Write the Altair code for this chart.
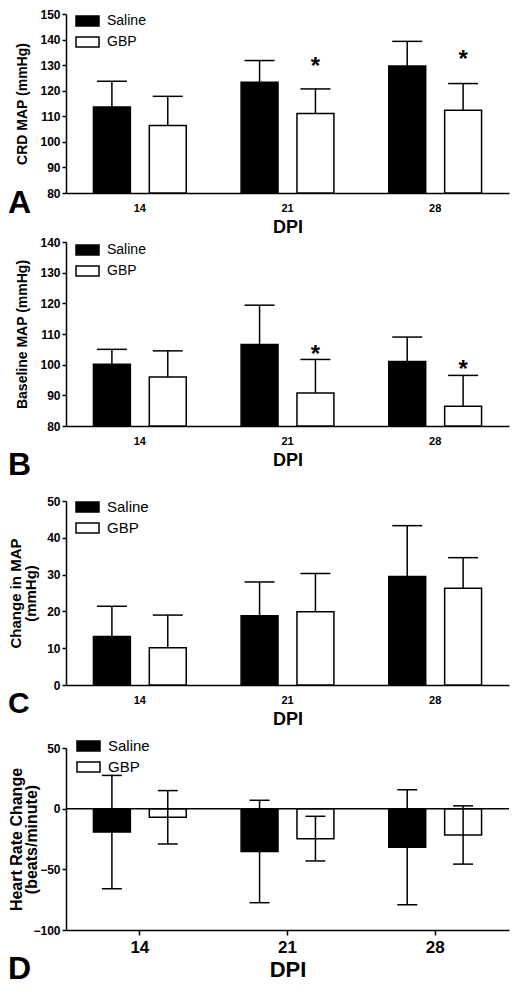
import altair as alt
import pandas as pd

# ---------------- data ----------------
dpi = ["14", "21", "28"]
groups = ["Saline", "GBP"]

# A: CRD MAP (mmHg)
crd_saline = [113.6, 123.3, 129.7]
crd_saline_sd = [10.1, 8.5, 9.6]
crd_gbp = [106.4, 111.1, 112.4]
crd_gbp_sd = [11.4, 9.6, 10.4]
crd_star = [None, 131.6, 134.2]

# B: Baseline MAP (mmHg)
base_saline = [100.1, 106.6, 101.0]
base_saline_sd = [4.9, 12.8, 8.0]
base_gbp = [96.0, 90.8, 86.4]
base_gbp_sd = [8.5, 10.9, 10.1]
base_star = [None, 105.1, 100.3]

# C: Change in MAP (mmHg)
chg_saline = [13.2, 18.8, 29.5]
chg_saline_sd = [8.2, 9.2, 13.8]
chg_gbp = [10.1, 19.9, 26.3]
chg_gbp_sd = [8.9, 10.4, 8.3]

# D: Heart rate change (beats/minute)
hr_saline = [-19.3, -35.3, -31.8]
hr_saline_sd = [46.7, 42.2, 47.4]
hr_gbp = [-7.1, -24.7, -21.7]
hr_gbp_sd = [22.0, 18.4, 24.0]

FONT = "Liberation Sans"
W = 443
RECT = "M-1,-0.43H1V0.43H-1Z"


def frame(sal, sal_sd, gbp, gbp_sd, star=None):
    rows = []
    for i, d in enumerate(dpi):
        rows.append(dict(DPI=d, group="Saline", mean=sal[i], sd=sal_sd[i], star=None))
        rows.append(dict(DPI=d, group="GBP", mean=gbp[i], sd=gbp_sd[i],
                         star=(star[i] if star else None)))
    df = pd.DataFrame(rows)
    df["hi"] = df["mean"] + df["sd"]
    df["lo"] = df["mean"] - df["sd"]
    return df


def panel(df, ytitle, domain, yticks, height, top, base, letter, letter_y,
          legend_x, legend_y, legend_font, row_pad, title_x, two_sided=False, cap=30,
          xlabel_size=11, xtitle_size=18, xticks=False, xlabel_pad=9, xtitle_pad=5,
          ytitle_size=14, ytitle_lh=16, letter_size=32, zero_rule=False):
    xaxis = alt.Axis(title="DPI", labelAngle=0, ticks=xticks, tickSize=5,
                     labelFontSize=xlabel_size, titleFontSize=xtitle_size,
                     labelPadding=xlabel_pad, titlePadding=xtitle_pad)
    x = alt.X("DPI:N", sort=dpi, scale=alt.Scale(paddingInner=0, paddingOuter=0), axis=xaxis)
    xo = alt.XOffset("group:N", sort=groups,
                     scale=alt.Scale(domain=groups, paddingInner=0.339, paddingOuter=0.491))
    yscale = alt.Scale(domain=domain, range=[height, top], nice=False, zero=False)
    yaxis = alt.Axis(title=ytitle, values=yticks, tickSize=4, labelFontSize=12,
                     labelPadding=2, titleFontSize=ytitle_size,
                     titleLineHeight=ytitle_lh, titleX=title_x,
                     titleY=(height + top) / 2, titleBaseline="bottom", titleAngle=270,
                     titleAlign="center")

    def Y(field):
        return alt.Y(field, type="quantitative", scale=yscale, axis=yaxis)

    base_chart = alt.Chart(df)
    bars = base_chart.mark_bar(stroke="black", strokeWidth=1.5).encode(
        x=x, xOffset=xo, y=Y("mean"), y2=alt.Y2(datum=base),
        fill=alt.Fill("group:N", sort=groups,
                      scale=alt.Scale(domain=groups, range=["black", "white"]),
                      legend=alt.Legend(title=None, orient="none", legendX=legend_x,
                                        legendY=legend_y, direction="vertical",
                                        symbolType=RECT, symbolSize=529,
                                        symbolStrokeColor="black", symbolStrokeWidth=1.5,
                                        labelFontSize=legend_font, labelOffset=7,
                                        rowPadding=row_pad, padding=0)),
    )
    layers = [bars]
    if zero_rule:
        layers.append(alt.Chart(pd.DataFrame({"z": [0]})).mark_rule(
            color="black", strokeWidth=1.5).encode(y=Y("z")))
    err = base_chart.mark_rule(color="black", strokeWidth=1.5).encode(
        x=x, xOffset=xo, y=Y("lo" if two_sided else "mean"), y2="hi")
    layers.append(err)
    capmark = dict(shape="M-1,0H1", size=cap * cap, stroke="black", strokeWidth=1.5,
                   filled=False, opacity=1)
    layers.append(base_chart.mark_point(**capmark).encode(x=x, xOffset=xo, y=Y("hi")))
    if two_sided:
        layers.append(base_chart.mark_point(**capmark).encode(x=x, xOffset=xo, y=Y("lo")))
    if df["star"].notna().any():
        layers.append(base_chart.transform_filter("isValid(datum.star)").mark_text(
            text="*", fontSize=24, fontWeight="bold", font=FONT, baseline="alphabetic",
            dy=13, color="black").encode(x=x, xOffset=xo, y=Y("star")))
    layers.append(alt.Chart(pd.DataFrame({"l": [letter]})).mark_text(
        fontSize=letter_size, fontWeight="bold", font=FONT, align="left",
        baseline="alphabetic", color="black").encode(
        text="l:N", x=alt.value(-58), y=alt.value(letter_y)))
    return alt.layer(*layers).properties(width=W, height=height)


dfA = frame(crd_saline, crd_saline_sd, crd_gbp, crd_gbp_sd, crd_star)
dfB = frame(base_saline, base_saline_sd, base_gbp, base_gbp_sd, base_star)
dfC = frame(chg_saline, chg_saline_sd, chg_gbp, chg_gbp_sd)
dfD = frame(hr_saline, hr_saline_sd, hr_gbp, hr_gbp_sd)

pA = panel(dfA, "CRD MAP (mmHg)", [80, 150], list(range(80, 151, 10)), 184, 5, 80,
           "A", 204, 9, -0.5, 14, -5, -37)
pB = panel(dfB, "Baseline MAP (mmHg)", [80, 140], list(range(80, 141, 10)), 184, 0, 80,
           "B", 233, 9, -4.5, 14, -7, -37)
pC = panel(dfC, ["Change in MAP", "(mmHg)"], [0, 50], list(range(0, 51, 10)), 210, 26, 0,
           "C", 238, 9, 19.5, 15, -1, -43, ytitle_size=15, ytitle_lh=15, letter_size=30)
pD = panel(dfD, ["Heart Rate Change", "(beats/minute)"], [-100, 50], [-100, -50, 0, 50],
           196, 14, 0, "D", 245, 10, -0.5, 15, 0, -42, two_sided=True, cap=20,
           xlabel_size=17, xtitle_size=22, xticks=True, xlabel_pad=4, xtitle_pad=4,
           ytitle_size=16, ytitle_lh=15, zero_rule=True)

chart = alt.vconcat(pA, pB, pC, pD, spacing=49, bounds="flush", padding=0).resolve_scale(
    x="independent", y="independent", fill="independent", xOffset="independent"
).resolve_legend(fill="independent").configure_view(stroke=None).configure_axis(
    domainColor="black", domainWidth=1.5, tickColor="black", tickWidth=1.5,
    labelColor="black", titleColor="black", labelFont=FONT, titleFont=FONT,
    labelFontWeight="bold", titleFontWeight="bold", grid=False
).configure_legend(labelFont=FONT, labelColor="black")

chart.save("out.html", embed_options={"renderer": "svg", "actions": False})
